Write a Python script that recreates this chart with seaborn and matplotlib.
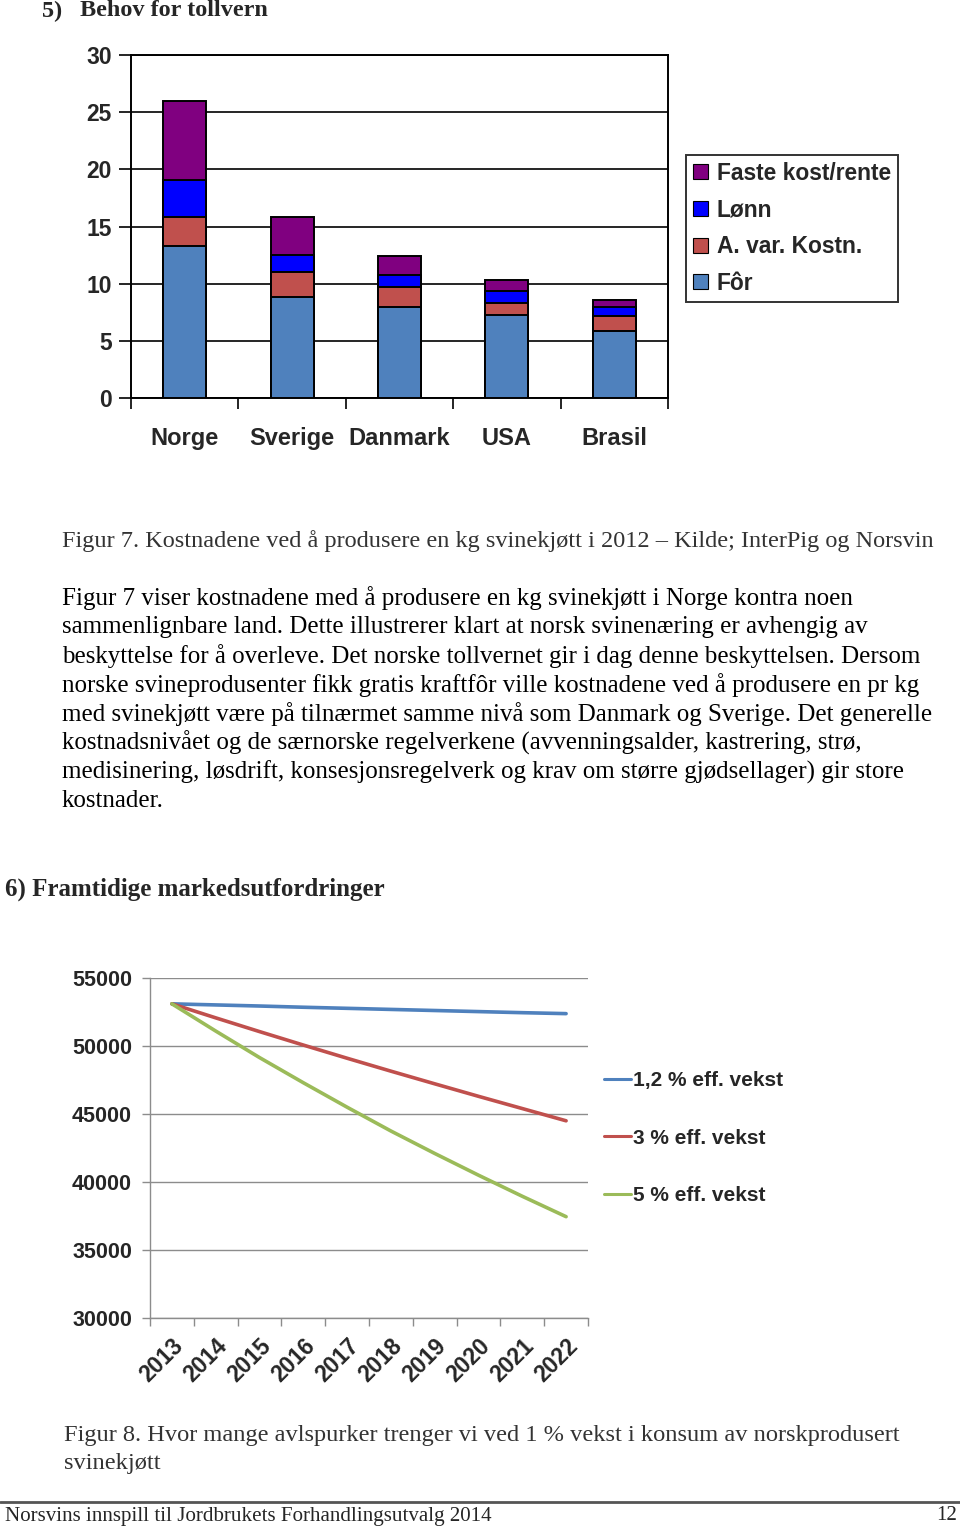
import numpy as np
import pandas as pd
import matplotlib
matplotlib.use("Agg")
import matplotlib.pyplot as plt
import seaborn as sns
from matplotlib.lines import Line2D
from matplotlib.patches import Patch

# ---------------- data ----------------
countries = ["Norge", "Sverige", "Danmark", "USA", "Brasil"]
cost_for = [13.3, 8.8, 8.0, 7.25, 5.9]          # Fôr
cost_avar = [2.5, 2.2, 1.7, 1.1, 1.3]           # A. var. Kostn.
cost_lonn = [3.3, 1.5, 1.1, 1.0, 0.8]           # Lønn
cost_faste = [6.9, 3.35, 1.6, 1.0, 0.55]        # Faste kost/rente
bar_labels = ["Faste kost/rente", "Lønn", "A. var. Kostn.", "Fôr"]
bar_yticks = [0, 5, 10, 15, 20, 25, 30]

years = [2013, 2014, 2015, 2016, 2017, 2018, 2019, 2020, 2021, 2022]
vekst_12 = [53100, 53020, 52940, 52850, 52770, 52690, 52610, 52530, 52450, 52380]
vekst_3 = [53100, 52070, 51060, 50070, 49100, 48150, 47220, 46300, 45400, 44500]
vekst_5 = [53100, 51100, 49150, 47300, 45500, 43750, 42100, 40500, 38950, 37450]
line_labels = ["1,2 % eff. vekst", "3 % eff. vekst", "5 % eff. vekst"]
line_yticks = [30000, 35000, 40000, 45000, 50000, 55000]

body_lines = [
    "Figur 7 viser kostnadene med å produsere en kg svinekjøtt i Norge kontra noen",
    "sammenlignbare land. Dette illustrerer klart at norsk svinenæring er avhengig av",
    "beskyttelse for å overleve. Det norske tollvernet gir i dag denne beskyttelsen. Dersom",
    "norske svineprodusenter fikk gratis kraftfôr ville kostnadene ved å produsere en pr kg",
    "med svinekjøtt være på tilnærmet samme nivå som Danmark og Sverige. Det generelle",
    "kostnadsnivået og de særnorske regelverkene (avvenningsalder, kastrering, strø,",
    "medisinering, løsdrift, konsesjonsregelverk og krav om større gjødsellager) gir store",
    "kostnader.",
]

# ---------------- style ----------------
sns.set_theme(style="white")
plt.rcParams["font.family"] = ["Liberation Sans", "DejaVu Sans"]

W, H = 960, 1529
fig = plt.figure(figsize=(W / 100, H / 100), dpi=100)
fig.patch.set_facecolor("white")


def px(x, y):
    return x / W, 1 - y / H


def ax_rect(l, t, r, b):
    return [l / W, 1 - b / H, (r - l) / W, (b - t) / H]


serif = ["Liberation Serif", "DejaVu Serif"]

# ---------------- bar chart ----------------
ax1 = fig.add_axes(ax_rect(131, 55, 668, 398))
c_for, c_avar, c_lonn, c_faste = "#4F81BD", "#C0504D", "#0000FF", "#800080"
cum1 = np.array(cost_for)
cum2 = cum1 + np.array(cost_avar)
cum3 = cum2 + np.array(cost_lonn)
cum4 = cum3 + np.array(cost_faste)
for vals, col in [(cum4, c_faste), (cum3, c_lonn), (cum2, c_avar), (cum1, c_for)]:
    df = pd.DataFrame({"land": countries, "v": vals})
    sns.barplot(data=df, x="land", y="v", color=col, saturation=1, width=0.4,
                edgecolor="black", linewidth=1.4, ax=ax1, zorder=3)
ax1.set_ylim(0, 30)
ax1.set_xlim(-0.5, 4.5)
ax1.set_yticks(bar_yticks)
ax1.set_yticklabels([str(t) for t in bar_yticks], fontsize=16.5, fontweight="bold")
ax1.yaxis.grid(True, color="black", linewidth=1.2, zorder=0)
ax1.set_axisbelow(True)
ax1.set_xlabel("")
ax1.set_ylabel("")
ax1.set_xticks(range(5))
ax1.set_xticklabels(countries, fontsize=17, fontweight="bold")
ax1.set_xticks(np.arange(-0.5, 5, 1), minor=True)
ax1.tick_params(axis="x", which="major", length=0, pad=21)
ax1.tick_params(axis="x", which="minor", length=8, width=1.2, color="black", bottom=True)
ax1.tick_params(axis="y", length=9, width=1.2, color="black", left=True, pad=5)
for s in ax1.spines.values():
    s.set_visible(True)
    s.set_color("black")
    s.set_linewidth(1.4)

handles1 = [Patch(facecolor=c, edgecolor="black", linewidth=0.8)
            for c in [c_faste, c_lonn, c_avar, c_for]]
leg1 = ax1.legend(handles1, bar_labels, loc="upper left",
                  bbox_to_anchor=px(686, 155), bbox_transform=fig.transFigure,
                  prop={"weight": "bold", "size": 16.4}, frameon=True, fancybox=False,
                  edgecolor="black", handlelength=0.65, handleheight=0.65,
                  handletextpad=0.4, labelspacing=0.6, borderpad=0.3,
                  borderaxespad=0)
leg1.get_frame().set_linewidth(1.4)

# ---------------- line chart ----------------
ax2 = fig.add_axes(ax_rect(150, 978, 588, 1318))
ldf = pd.DataFrame({
    "year": years * 3,
    "val": vekst_12 + vekst_3 + vekst_5,
    "serie": [line_labels[0]] * 10 + [line_labels[1]] * 10 + [line_labels[2]] * 10,
})
pal = {line_labels[0]: "#4F81BD", line_labels[1]: "#C0504D", line_labels[2]: "#9BBB59"}
sns.lineplot(data=ldf, x="year", y="val", hue="serie", palette=pal, linewidth=2.6,
             ax=ax2, legend=False, zorder=3)
ax2.set_xlim(2012.5, 2022.5)
ax2.set_ylim(30000, 55000)
ax2.set_yticks(line_yticks)
ax2.set_yticklabels([str(t) for t in line_yticks], fontsize=15.5, fontweight="bold")
ax2.yaxis.grid(True, color="#8c8c8c", linewidth=1.0)
ax2.set_xticks(years)
ax2.set_xticklabels([str(y) for y in years], fontsize=16.5, fontweight="bold",
                    rotation=45, ha="right", rotation_mode="anchor")
ax2.set_xticks(np.arange(2012.5, 2023, 1), minor=True)
ax2.tick_params(axis="x", which="major", length=0, pad=12)
ax2.tick_params(axis="x", which="minor", length=6, width=1.0, color="#8c8c8c", bottom=True)
ax2.tick_params(axis="y", length=6, width=1.0, color="#8c8c8c", left=True, pad=7)
ax2.set_xlabel("")
ax2.set_ylabel("")
for k in ["top", "right"]:
    ax2.spines[k].set_visible(False)
for k in ["left", "bottom"]:
    ax2.spines[k].set_color("#8c8c8c")
    ax2.spines[k].set_linewidth(1.0)

handles2 = [Line2D([0], [0], color=pal[l], linewidth=2.2) for l in line_labels]
ax2.legend(handles2, line_labels, loc="upper left",
           bbox_to_anchor=px(604, 1071), bbox_transform=fig.transFigure,
           prop={"weight": "bold", "size": 15}, frameon=False,
           handlelength=1.3, handletextpad=0.1, labelspacing=1.85, borderpad=0,
           borderaxespad=0)

# ---------------- page text ----------------
fig.text(*px(42, 11), "5)", family=serif, fontsize=17.5, fontweight="bold", va="center")
fig.text(*px(80, 11), "Behov for tollvern", family=serif, fontsize=17.5,
         fontweight="bold", va="center")
fig.text(*px(62, 541), "Figur 7. Kostnadene ved å produsere en kg svinekjøtt i 2012 – "
         "Kilde; InterPig og Norsvin", family=serif, fontsize=17.5, color="#333333",
         va="center")
for i, line in enumerate(body_lines):
    fig.text(*px(62, 598 + 29 * i), line, family=serif, fontsize=18,
             color="black", va="center")
fig.text(*px(5, 889), "6) Framtidige markedsutfordringer", family=serif,
         fontsize=18, fontweight="bold", va="center")
fig.text(*px(64, 1435), "Figur 8. Hvor mange avlspurker trenger vi ved 1 % vekst i "
         "konsum av norskprodusert", family=serif, fontsize=17.6, color="#333333",
         va="center")
fig.text(*px(64, 1463), "svinekjøtt", family=serif, fontsize=17.6, color="#333333",
         va="center")
fig.add_artist(Line2D([0, 1], [1 - 1502 / H] * 2, transform=fig.transFigure,
                      color="#555555", linewidth=2))
fig.text(*px(5, 1517), "Norsvins innspill til Jordbrukets Forhandlingsutvalg 2014",
         family=serif, fontsize=15.1, va="center")
fig.text(*px(957, 1515), "12", family=serif, fontsize=15.1, va="center", ha="right")

fig.savefig("out.png", dpi=100, facecolor="white")
